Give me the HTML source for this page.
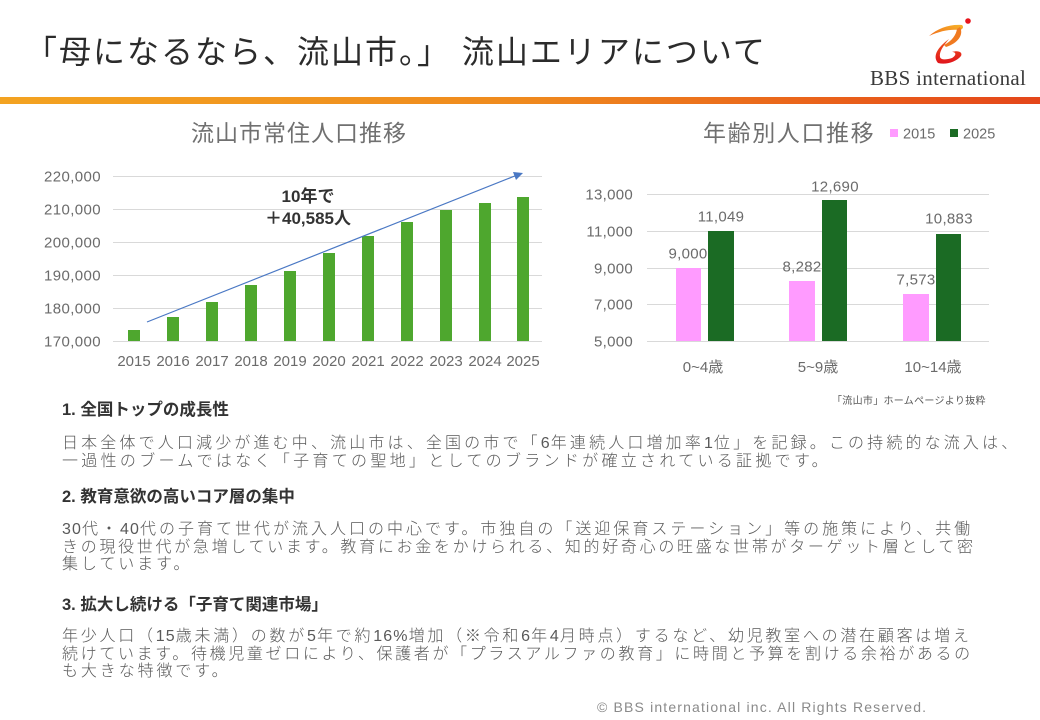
<!DOCTYPE html>
<html><head><meta charset="utf-8">
<style>
html,body{margin:0;padding:0;}
body{width:1040px;height:720px;position:relative;background:#fff;overflow:hidden;font-family:"Liberation Sans","Noto Sans CJK JP",sans-serif;}
.a{position:absolute;white-space:nowrap;}
.title{left:25px;top:35px;font-size:32px;line-height:34px;letter-spacing:2px;color:#2b2b2b;font-family:"Liberation Sans","Noto Sans CJK JP",sans-serif;}
.logo{left:870px;top:68px;font-family:"Liberation Serif",serif;font-size:21px;line-height:21px;letter-spacing:0.3px;color:#3a3a3a;}
.bar{left:0;top:97px;width:1040px;height:7px;background:linear-gradient(90deg,#f3a321 0%,#ef8a1e 50%,#e85a1a 85%,#e4461a 100%);}
.h{left:62px;font-size:16.5px;font-weight:bold;color:#333;line-height:18px;}
.p{left:62px;font-size:16px;letter-spacing:2.9px;color:#595959;line-height:17.5px;font-weight:300;}
.d{letter-spacing:1.1px;}
.ct{font-size:23px;color:#707070;line-height:26px;letter-spacing:1px;}
.foot{left:597px;top:698px;font-size:14px;letter-spacing:1.16px;color:#8a8a8a;line-height:18px;}
.src{left:832px;top:396px;font-size:10px;color:#595959;line-height:12px;letter-spacing:0.3px;}
</style></head><body>

<div class="a title">「母になるなら、流山市。」 流山エリアについて</div>

<svg class="a" style="left:0;top:0" width="1040" height="110">
  <defs>
    <linearGradient id="og" x1="0" y1="1" x2="1" y2="0">
      <stop offset="0" stop-color="#f06a1a"/>
      <stop offset="1" stop-color="#f7b52a"/>
    </linearGradient>
    <linearGradient id="rg" x1="0" y1="0" x2="0" y2="1">
      <stop offset="0" stop-color="#f0561c"/>
      <stop offset="1" stop-color="#e0141c"/>
    </linearGradient>
  </defs>
  <path d="M929,36 C938,28 950,24 962,25 C964,27 963,29 960,30 C950,29 940,31 929,36 Z" fill="url(#og)"/>
  <path d="M960,27 C964,35 958,43 946,47 L944,45 C952,41 956,35 957,29 Z" fill="#f07a20"/>
  <path d="M949,39 C938,47 932,56 938,63 C946,65 956,62 961,56 C963,52 958,50 952,52 C956,52 957,55 952,58 C946,60 941,60 940,57 C939,52 943,46 949,39 Z" fill="url(#rg)"/>
  <circle cx="968" cy="21" r="2.8" fill="#e8141c"/>
</svg>
<div class="a logo">BBS international</div>
<div class="a bar"></div>

<!-- Left chart -->
<div class="a ct" style="left:191px;top:120px;">流山市常住人口推移</div>
<svg class="a" style="left:0;top:0" width="1040" height="400">
  <g stroke="#d9d9d9" stroke-width="1">
    <line x1="113" y1="176.5" x2="542" y2="176.5"/>
    <line x1="113" y1="209.5" x2="542" y2="209.5"/>
    <line x1="113" y1="242.5" x2="542" y2="242.5"/>
    <line x1="113" y1="275.5" x2="542" y2="275.5"/>
    <line x1="113" y1="308.5" x2="542" y2="308.5"/>
    <line x1="113" y1="341.5" x2="542" y2="341.5"/>
  </g>
  <g fill="#4ea72e">
    <rect x="128" y="330" width="12" height="11"/>
    <rect x="167" y="317" width="12" height="24"/>
    <rect x="206" y="302" width="12" height="39"/>
    <rect x="245" y="285" width="12" height="56"/>
    <rect x="284" y="271" width="12" height="70"/>
    <rect x="323" y="253" width="12" height="88"/>
    <rect x="362" y="236" width="12" height="105"/>
    <rect x="401" y="222" width="12" height="119"/>
    <rect x="440" y="210" width="12" height="131"/>
    <rect x="479" y="203" width="12" height="138"/>
    <rect x="517" y="197" width="12" height="144"/>
  </g>
  <g font-family="Liberation Sans, sans-serif" font-size="15" fill="#6b6b6b" text-anchor="end" letter-spacing="0.4">
    <text x="101" y="181.5">220,000</text>
    <text x="101" y="214.5">210,000</text>
    <text x="101" y="247.5">200,000</text>
    <text x="101" y="280.5">190,000</text>
    <text x="101" y="313.5">180,000</text>
    <text x="101" y="346.5">170,000</text>
  </g>
  <g font-family="Liberation Sans, sans-serif" font-size="15" fill="#6b6b6b" text-anchor="middle">
    <text x="134" y="366">2015</text>
    <text x="173" y="366">2016</text>
    <text x="212" y="366">2017</text>
    <text x="251" y="366">2018</text>
    <text x="290" y="366">2019</text>
    <text x="329" y="366">2020</text>
    <text x="368" y="366">2021</text>
    <text x="407" y="366">2022</text>
    <text x="446" y="366">2023</text>
    <text x="485" y="366">2024</text>
    <text x="523" y="366">2025</text>
  </g>
  <line x1="147" y1="322" x2="516" y2="175.5" stroke="#4a78c4" stroke-width="1.2"/>
  <polygon points="523,173 513,172 516,180" fill="#4a78c4"/>
  <g font-family="Liberation Sans, Noto Sans CJK JP, sans-serif" font-size="17" font-weight="bold" fill="#333" text-anchor="middle">
    <text x="308" y="202">10年で</text>
    <text x="308" y="224">＋40,585人</text>
  </g>

  <!-- Right chart -->
  <g stroke="#d9d9d9" stroke-width="1">
    <line x1="647" y1="194.5" x2="989" y2="194.5"/>
    <line x1="647" y1="231.5" x2="989" y2="231.5"/>
    <line x1="647" y1="268.5" x2="989" y2="268.5"/>
    <line x1="647" y1="304.5" x2="989" y2="304.5"/>
    <line x1="647" y1="341.5" x2="989" y2="341.5"/>
  </g>
  <g fill="#ff9bff">
    <rect x="676" y="268" width="25" height="73"/>
    <rect x="789" y="281" width="26" height="60"/>
    <rect x="903" y="294" width="26" height="47"/>
  </g>
  <g fill="#1b6b24">
    <rect x="708" y="231" width="26" height="110"/>
    <rect x="822" y="200" width="25" height="141"/>
    <rect x="936" y="234" width="25" height="107"/>
  </g>
  <g font-family="Liberation Sans, sans-serif" font-size="15" fill="#6b6b6b" text-anchor="end" letter-spacing="0.3">
    <text x="633" y="199.5">13,000</text>
    <text x="633" y="236.5">11,000</text>
    <text x="633" y="273.5">9,000</text>
    <text x="633" y="309.5">7,000</text>
    <text x="633" y="346.5">5,000</text>
  </g>
  <g font-family="Liberation Sans, sans-serif" font-size="15" fill="#6b6b6b" text-anchor="middle" letter-spacing="0.3">
    <text x="688" y="258.5">9,000</text>
    <text x="721" y="221.5">11,049</text>
    <text x="802" y="271.5">8,282</text>
    <text x="835" y="191.5">12,690</text>
    <text x="916" y="284.5">7,573</text>
    <text x="949" y="223.5">10,883</text>
  </g>
  <g font-family="Liberation Sans, Noto Sans CJK JP, sans-serif" font-size="15" fill="#6b6b6b" text-anchor="middle">
    <text x="703" y="372">0~4歳</text>
    <text x="818" y="372">5~9歳</text>
    <text x="933" y="372">10~14歳</text>
  </g>
  <rect x="890" y="129" width="8" height="8" fill="#ff9bff"/>
  <rect x="950" y="129" width="8" height="8" fill="#1b6b24"/>
  <g font-family="Liberation Sans, sans-serif" font-size="14.5" fill="#6b6b6b">
    <text x="903" y="138.5">2015</text>
    <text x="963" y="138.5">2025</text>
  </g>
</svg>
<div class="a ct" style="left:703px;top:120px;letter-spacing:1.6px;">年齢別人口推移</div>
<div class="a src">「流山市」ホームページより抜粋</div>

<!-- Body text -->
<div class="a h" style="top:401px;">1. 全国トップの成長性</div>
<div class="a p" style="top:435px;letter-spacing:3.15px;">日本全体で人口減少が進む中、流山市は、全国の市で「<span class="d">6</span>年連続人口増加率<span class="d">1</span>位」を記録。この持続的な流入は、</div>
<div class="a p" style="top:452.5px;letter-spacing:3.3px;">一過性のブームではなく「子育ての聖地」としてのブランドが確立されている証拠です。</div>

<div class="a h" style="top:488px;">2. 教育意欲の高いコア層の集中</div>
<div class="a p" style="top:521px;letter-spacing:3.0px;"><span class="d">30</span>代・<span class="d">40</span>代の子育て世代が流入人口の中心です。市独自の「送迎保育ステーション」等の施策により、共働</div>
<div class="a p" style="top:538.5px;letter-spacing:2.7px;">きの現役世代が急増しています。教育にお金をかけられる、知的好奇心の旺盛な世帯がターゲット層として密</div>
<div class="a p" style="top:556px;">集しています。</div>

<div class="a h" style="top:596px;">3. 拡大し続ける「子育て関連市場」</div>
<div class="a p" style="top:628px;letter-spacing:2.75px;">年少人口（<span class="d">15</span>歳未満）の数が<span class="d">5</span>年で約<span class="d">16%</span>増加（※令和<span class="d">6</span>年<span class="d">4</span>月時点）するなど、幼児教室への潜在顧客は増え</div>
<div class="a p" style="top:645.5px;letter-spacing:2.65px;">続けています。待機児童ゼロにより、保護者が「プラスアルファの教育」に時間と予算を割ける余裕があるの</div>
<div class="a p" style="top:663px;">も大きな特徴です。</div>

<div class="a foot">© BBS international inc. All Rights Reserved.</div>
</body></html>
